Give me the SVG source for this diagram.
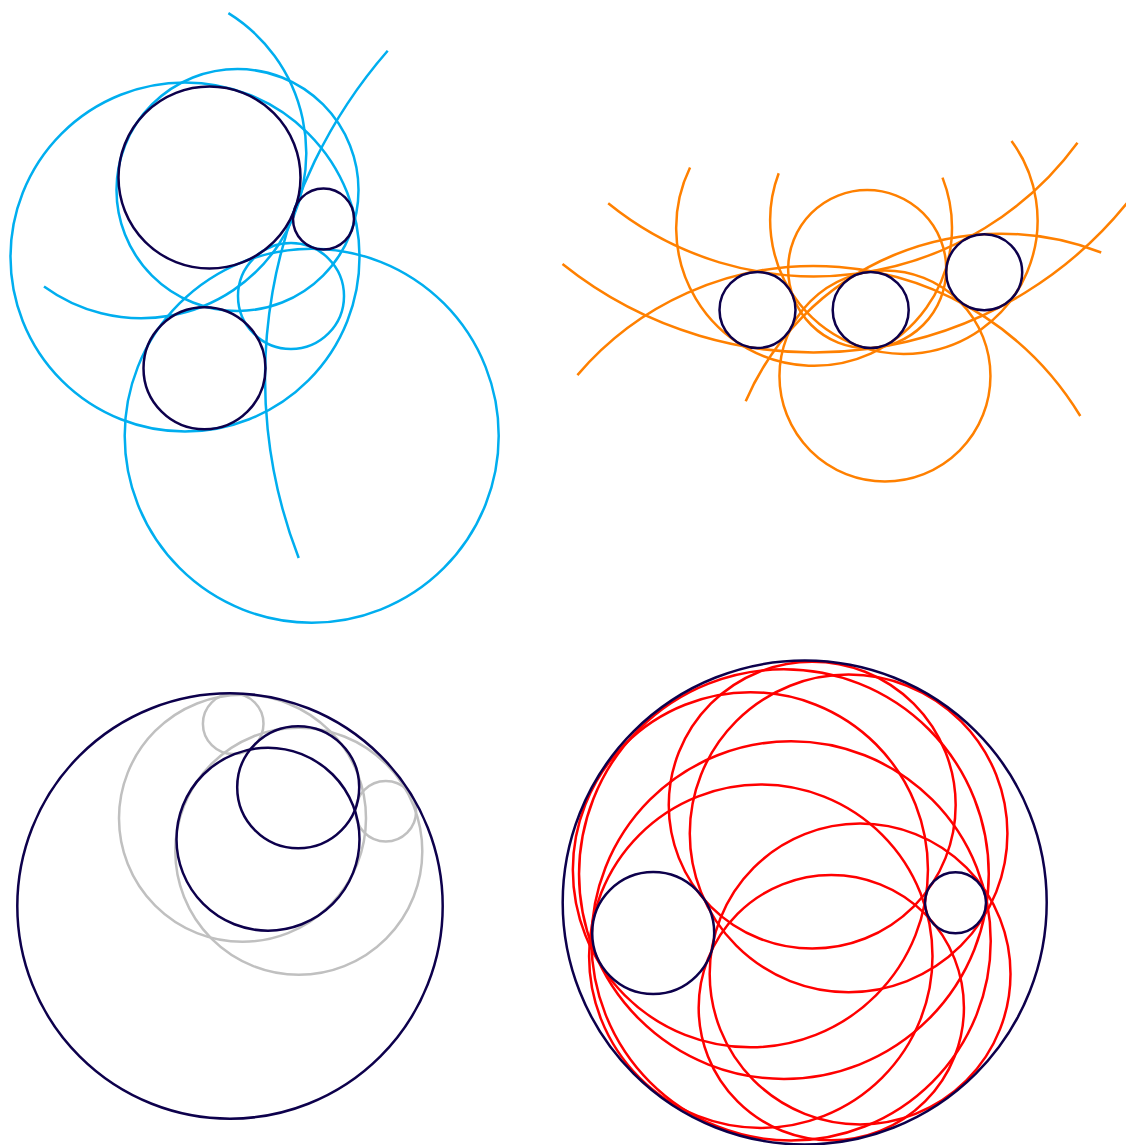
<svg xmlns="http://www.w3.org/2000/svg" width="1126" height="1145" viewBox="0 0 1126 1145">
<style>
  .g{fill:none;stroke:#0d004c;stroke-width:2.5}
  .cy{fill:none;stroke:#00aeef;stroke-width:2.5}
  .or{fill:none;stroke:#ff8000;stroke-width:2.5}
  .gr{fill:none;stroke:#c0c0c0;stroke-width:2.5}
  .rd{fill:none;stroke:#ff0000;stroke-width:2.5}
</style>
<rect width="1126" height="1145" fill="#ffffff"/>

<g id="panel-top-left">
  <g id="tl-solutions">
    <circle class="cy" cx="185" cy="257" r="174.5"/>
    <circle class="cy" cx="237.5" cy="190" r="121"/>
    <circle class="cy" cx="291" cy="296" r="53"/>
    <circle class="cy" cx="311.7" cy="435.7" r="187"/>
    <path class="cy" d="M228.4,13.1 A165,165 0 1 1 44,286.5"/>
    <path class="cy" d="M387.7,50.7 A498,498 0 0 0 298.7,558"/>
  </g>
  <g id="tl-given">
    <circle class="g" cx="209.5" cy="177.5" r="91"/>
    <circle class="g" cx="323.5" cy="219" r="30.5"/>
    <circle class="g" cx="204.5" cy="368.3" r="61"/>
  </g>
</g>

<g id="panel-top-right">
  <g id="tr-solutions">
    <path class="or" d="M608.2,203.3 A326.5,326.5 0 0 0 1077.5,142.7"/>
    <path class="or" d="M562.5,264.1 A402.5,402.5 0 0 0 1138.9,187.6"/>
    <path class="or" d="M690.05,167.56 A137.9,137.9 0 1 0 942.5,177.6"/>
    <path class="or" d="M778.7,173.2 A133.7,133.7 0 1 0 1011.5,140.9"/>
    <path class="or" d="M745.7,401.2 A277.9,277.9 0 0 1 1101.2,252.5"/>
    <path class="or" d="M577.4,375.1 A311.2,311.2 0 0 1 1080.3,416"/>
    <circle class="or" cx="867.2" cy="269.1" r="79.06"/>
    <circle class="or" cx="884.95" cy="375.95" r="105.5"/>
  </g>
  <g id="tr-given">
    <circle class="g" cx="757.5" cy="310" r="38"/>
    <circle class="g" cx="870.7" cy="310" r="38"/>
    <circle class="g" cx="984.2" cy="272.3" r="38"/>
  </g>
</g>

<g id="panel-bottom-left">
  <g id="bl-solutions">
    <circle class="gr" cx="242.5" cy="818.3" r="123.5"/>
    <circle class="gr" cx="298.8" cy="851.3" r="123.5"/>
    <circle class="gr" cx="233.2" cy="723.7" r="30.3"/>
    <circle class="gr" cx="385.8" cy="811.2" r="30.3"/>
  </g>
  <g id="bl-given">
    <circle class="g" cx="230" cy="906" r="212.7"/>
    <circle class="g" cx="268" cy="839.2" r="91.5"/>
    <circle class="g" cx="298.2" cy="787.2" r="61"/>
  </g>
</g>

<g id="panel-bottom-right">
  <g id="br-solutions">
    <circle class="rd" cx="812.2" cy="805.1" r="143.45"/>
    <circle class="rd" cx="831.3" cy="1007.7" r="132.63"/>
    <circle class="rd" cx="783.9" cy="874.1" r="204.86"/>
    <circle class="rd" cx="791.1" cy="940.9" r="199.63"/>
    <circle class="rd" cx="750.4" cy="869.8" r="177.55"/>
    <circle class="rd" cx="760.8" cy="956.2" r="171.7"/>
    <circle class="rd" cx="848.6" cy="833.4" r="158.81"/>
    <circle class="rd" cx="860.1" cy="974" r="150.41"/>
  </g>
  <g id="br-given">
    <circle class="g" cx="804.7" cy="902.5" r="242"/>
    <circle class="g" cx="653.2" cy="933" r="61"/>
    <circle class="g" cx="955.5" cy="902.8" r="30.5"/>
  </g>
</g>
</svg>
